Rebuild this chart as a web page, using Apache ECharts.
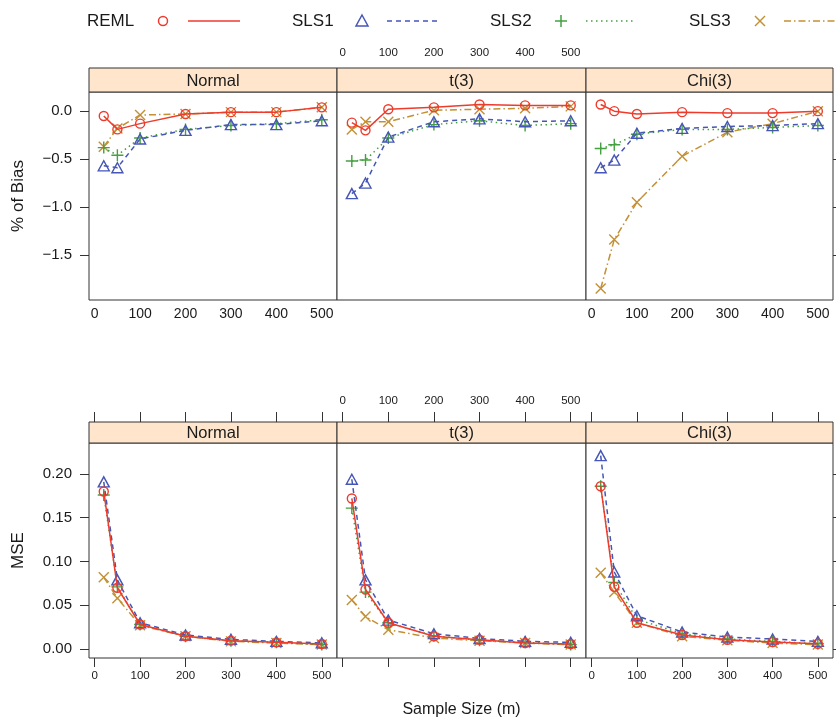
<!DOCTYPE html>
<html>
<head>
<meta charset="utf-8">
<script src="https://cdn.jsdelivr.net/npm/echarts@6/dist/echarts.min.js"></script>
<style>
  html, body { margin: 0; padding: 0; background: #fff; }
  #chart { width: 836px; height: 719px; }
</style>
</head>
<body>
<div id="chart"></div>
<script>
// sample sizes (x)
const sampleSizes = [20, 50, 100, 200, 300, 400, 500];
const methods = ['REML', 'SLS1', 'SLS2', 'SLS3'];
const panels = ['Normal', 't(3)', 'Chi(3)'];
const xTicks = [0, 100, 200, 300, 400, 500];
const biasTicks = [-1.5, -1.0, -0.5, 0.0];
const mseTicks = [0.00, 0.05, 0.10, 0.15, 0.20];

// % of Bias
const biasNormalREML = [-0.05, -0.19, -0.13, -0.03, -0.01, -0.01, 0.04];
const biasNormalSLS1 = [-0.57, -0.59, -0.29, -0.20, -0.14, -0.14, -0.10];
const biasNormalSLS2 = [-0.38, -0.46, -0.28, -0.19, -0.15, -0.13, -0.09];
const biasNormalSLS3 = [-0.37, -0.18, -0.04, -0.03, -0.01, -0.01, 0.04];

const biasT3REML = [-0.12, -0.20, 0.02, 0.04, 0.07, 0.06, 0.06];
const biasT3SLS1 = [-0.86, -0.75, -0.27, -0.11, -0.08, -0.11, -0.10];
const biasT3SLS2 = [-0.52, -0.51, -0.28, -0.14, -0.10, -0.15, -0.13];
const biasT3SLS3 = [-0.19, -0.11, -0.11, 0.01, 0.02, 0.03, 0.05];

const biasChi3REML = [0.07, 0.00, -0.03, -0.01, -0.02, -0.02, 0.00];
const biasChi3SLS1 = [-0.59, -0.51, -0.23, -0.18, -0.16, -0.15, -0.13];
const biasChi3SLS2 = [-0.39, -0.35, -0.24, -0.19, -0.19, -0.17, -0.15];
const biasChi3SLS3 = [-1.85, -1.34, -0.95, -0.47, -0.22, -0.13, 0.00];

// MSE
const mseNormalREML = [0.180, 0.070, 0.028, 0.0145, 0.0095, 0.0076, 0.0057];
const mseNormalSLS1 = [0.191, 0.079, 0.030, 0.016, 0.011, 0.0087, 0.007];
const mseNormalSLS2 = [0.176, 0.071, 0.028, 0.0145, 0.0095, 0.0076, 0.005];
const mseNormalSLS3 = [0.082, 0.058, 0.027, 0.0145, 0.0087, 0.0068, 0.005];

const mseT3REML = [0.172, 0.068, 0.030, 0.0145, 0.0106, 0.0068, 0.0057];
const mseT3SLS1 = [0.194, 0.079, 0.033, 0.0175, 0.012, 0.0087, 0.0076];
const mseT3SLS2 = [0.161, 0.065, 0.030, 0.015, 0.010, 0.0076, 0.005];
const mseT3SLS3 = [0.056, 0.037, 0.022, 0.0125, 0.0095, 0.0068, 0.005];

const mseChi3REML = [0.186, 0.071, 0.030, 0.016, 0.0106, 0.008, 0.006];
const mseChi3SLS1 = [0.221, 0.088, 0.038, 0.0194, 0.0137, 0.0114, 0.0087];
const mseChi3SLS2 = [0.186, 0.076, 0.034, 0.0175, 0.0114, 0.0087, 0.006];
const mseChi3SLS3 = [0.087, 0.065, 0.030, 0.0145, 0.010, 0.0068, 0.005];

const rows = [
  [[biasNormalREML, biasNormalSLS1, biasNormalSLS2, biasNormalSLS3],
   [biasT3REML, biasT3SLS1, biasT3SLS2, biasT3SLS3],
   [biasChi3REML, biasChi3SLS1, biasChi3SLS2, biasChi3SLS3]],
  [[mseNormalREML, mseNormalSLS1, mseNormalSLS2, mseNormalSLS3],
   [mseT3REML, mseT3SLS1, mseT3SLS2, mseT3SLS3],
   [mseChi3REML, mseChi3SLS1, mseChi3SLS2, mseChi3SLS3]]
];

// layout
const FONT = 'Liberation Sans, Arial, Helvetica, sans-serif';
const TXT = '#1a1a1a';
const FRAME = '#333';
const colLeft = [89, 337, 586];
const colWidth = [248, 249, 247];
const rowTop = [92, 443];
const rowHeight = [208, 215];
const stripH = [24, 21];
const xRange = [-12.5, 533.5];
const yRange = [[-1.97, 0.2], [-0.0103, 0.2354]];

const styles = [
  { color: '#EE3B2C', dash: 'solid', symbol: 'path://M10,5A5,5 0 1,1 0,5A5,5 0 1,1 10,5Z', size: 9 },
  { color: '#4656B6', dash: [5, 4], symbol: 'path://M5,0L10,9L0,9Z', size: [11, 10] },
  { color: '#45A041', dash: [1.5, 3.5], symbol: 'path://M5,0L5,10M0,5L10,5', size: 12 },
  { color: '#C39036', dash: [7, 3, 1.5, 3], symbol: 'path://M0,0L10,10M10,0L0,10', size: 10 }
];

const fmtMinus = s => s.replace('-', '\u2212');

const grids = [], xAxes = [], yAxes = [], series = [], graphics = [];

for (let r = 0; r < 2; r++) {
  for (let c = 0; c < 3; c++) {
    const gi = r * 3 + c;
    grids.push({
      left: colLeft[c], top: rowTop[r], width: colWidth[c], height: rowHeight[r],
      show: true, borderColor: FRAME, borderWidth: 1, backgroundColor: '#fff'
    });
    const showBottomLabels = c !== 1;
    xAxes.push({
      type: 'value', gridIndex: gi, position: 'bottom', min: xRange[0], max: xRange[1],
      axisLine: { show: false, onZero: false }, splitLine: { show: false },
      axisTick: { show: r === 1, inside: false, length: 9, customValues: xTicks,
                  lineStyle: { color: FRAME } },
      axisLabel: { show: showBottomLabels, customValues: xTicks, margin: r === 0 ? 7 : 12,
                   fontSize: r === 0 ? 14 : 11.5, color: TXT, fontFamily: FONT },
      name: (r === 1 && c === 1) ? 'Sample Size (m)' : '',
      nameLocation: 'middle', nameGap: 44,
      nameTextStyle: { fontSize: 16, color: TXT, fontFamily: FONT }
    });
    yAxes.push({
      type: 'value', gridIndex: gi, min: yRange[r][0], max: yRange[r][1],
      position: c === 2 ? 'right' : 'left',
      axisLine: { show: false, onZero: false }, splitLine: { show: false },
      axisTick: { show: c !== 1, inside: false, length: 9,
                  customValues: r === 0 ? biasTicks : mseTicks, lineStyle: { color: FRAME } },
      axisLabel: { show: c === 0, customValues: r === 0 ? biasTicks : mseTicks, margin: 17,
                   fontSize: 15, color: TXT, fontFamily: FONT,
                   formatter: v => fmtMinus(v.toFixed(r === 0 ? 1 : 2)) },
      name: c === 0 ? (r === 0 ? '% of Bias' : 'MSE') : '',
      nameLocation: 'middle', nameGap: 62,
      nameTextStyle: { fontSize: 17, color: TXT, fontFamily: FONT }
    });

    // strip
    graphics.push({
      type: 'rect', silent: true, z: 100,
      shape: { x: colLeft[c], y: rowTop[r] - stripH[r], width: colWidth[c], height: stripH[r] },
      style: { fill: '#FFE5CC', stroke: FRAME, lineWidth: 1 }
    });
    graphics.push({
      type: 'text', silent: true, z: 101,
      x: colLeft[c] + colWidth[c] / 2, y: rowTop[r] - stripH[r] / 2 + 1,
      style: { text: panels[c], fill: TXT, font: '16.5px ' + FONT, align: 'center', verticalAlign: 'middle' }
    });

    for (let m = 0; m < 4; m++) {
      const s = styles[m];
      series.push({
        name: methods[m], type: 'line', xAxisIndex: gi, yAxisIndex: gi,
        data: sampleSizes.map((x, k) => [x, rows[r][c][m][k]]),
        symbol: s.symbol, symbolSize: s.size, showSymbol: true,
        lineStyle: { color: s.color, width: 1.5, type: s.dash },
        itemStyle: { color: 'rgba(0,0,0,0)', borderColor: s.color, borderWidth: 1.4 },
        emphasis: { disabled: true }, silent: true, animation: false,
        z: 10 - m
      });
    }
  }
}

// top axes (labels / ticks above the strips)
for (let r = 0; r < 2; r++) {
  for (let c = 0; c < 3; c++) {
    const gi = r * 3 + c;
    if (r === 0 && c !== 1) continue;
    xAxes.push({
      type: 'value', gridIndex: gi, position: 'top', min: xRange[0], max: xRange[1],
      offset: r === 1 ? stripH[r] : 0,
      axisLine: { show: false, onZero: false }, splitLine: { show: false },
      axisTick: { show: r === 1, inside: false, length: 10, customValues: xTicks,
                  lineStyle: { color: FRAME } },
      axisLabel: { show: c === 1, customValues: xTicks, margin: r === 0 ? 33 : 15,
                   fontSize: 11.5, color: TXT, fontFamily: FONT }
    });
  }
}

// legend row
const legY = 21;
const legX = [87, 292, 490, 689];
const legMarkX = [163, 362, 561, 760];
const legLine = [[188, 240], [387, 438], [586, 636], [784, 835]];
for (let m = 0; m < 4; m++) {
  const s = styles[m];
  graphics.push({
    type: 'text', silent: true, x: legX[m], y: legY,
    style: { text: methods[m], fill: TXT, font: '17px ' + FONT, align: 'left', verticalAlign: 'middle' }
  });
  const cx = legMarkX[m];
  const ms = { fill: 'none', stroke: s.color, lineWidth: 1.5 };
  if (m === 0) graphics.push({ type: 'circle', silent: true, shape: { cx: cx, cy: legY, r: 4.5 }, style: ms });
  if (m === 1) graphics.push({ type: 'polygon', silent: true,
    shape: { points: [[cx, legY - 6], [cx + 6, legY + 5], [cx - 6, legY + 5]] }, style: ms });
  if (m === 2) {
    graphics.push({ type: 'line', silent: true, shape: { x1: cx - 6, y1: legY, x2: cx + 6, y2: legY }, style: ms });
    graphics.push({ type: 'line', silent: true, shape: { x1: cx, y1: legY - 6, x2: cx, y2: legY + 6 }, style: ms });
  }
  if (m === 3) {
    graphics.push({ type: 'line', silent: true, shape: { x1: cx - 5, y1: legY - 5, x2: cx + 5, y2: legY + 5 }, style: ms });
    graphics.push({ type: 'line', silent: true, shape: { x1: cx + 5, y1: legY - 5, x2: cx - 5, y2: legY + 5 }, style: ms });
  }
  graphics.push({
    type: 'line', silent: true,
    shape: { x1: legLine[m][0], y1: legY, x2: legLine[m][1], y2: legY },
    style: { stroke: s.color, lineWidth: 1.5, lineDash: s.dash === 'solid' ? null : s.dash }
  });
}

const chart = echarts.init(document.getElementById('chart'), null, { renderer: 'canvas' });
chart.setOption({
  animation: false,
  backgroundColor: '#fff',
  grid: grids,
  xAxis: xAxes,
  yAxis: yAxes,
  series: series,
  graphic: graphics
});
</script>
</body>
</html>
